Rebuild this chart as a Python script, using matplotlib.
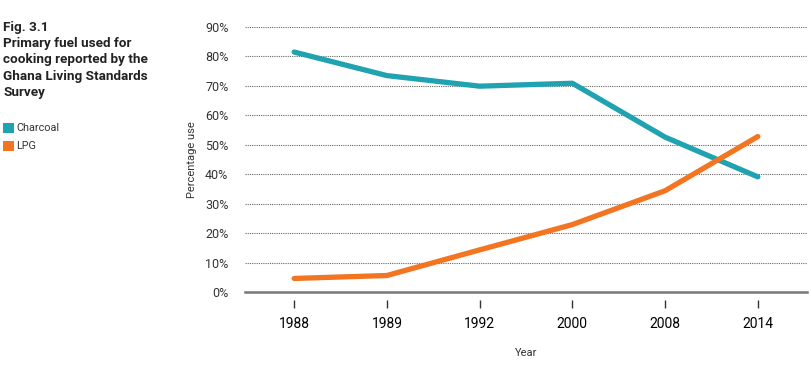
import matplotlib
matplotlib.use("Agg")
import matplotlib.pyplot as plt
from matplotlib.patches import Rectangle

# Data
years = ["1988", "1989", "1992", "2000", "2008", "2014"]
charcoal = [81.5, 73.5, 69.9, 70.9, 52.6, 39.1]
lpg = [4.6, 5.6, 14.3, 22.9, 34.4, 52.8]
y_ticks = [0, 10, 20, 30, 40, 50, 60, 70, 80, 90]

teal = "#20A3B1"
orange = "#F47521"
txt = "#333333"

plt.rcParams['font.family'] = ['Roboto', 'DejaVu Sans']

fig = plt.figure(figsize=(8.11, 3.72), dpi=100)
ax = fig.add_axes([245 / 811, 1 - 292 / 372, (807 - 245) / 811, (292 - 27) / 372])

x = list(range(len(years)))
ax.plot(x, charcoal, color=teal, lw=3.8, solid_capstyle="round", zorder=3)
ax.plot(x, lpg, color=orange, lw=3.8, solid_capstyle="round", zorder=3)

ax.set_xlim(-0.53, 5.53)
ax.set_ylim(0, 90)
ax.set_yticks(y_ticks)
ax.set_yticklabels([f"{v}%" for v in y_ticks], fontsize=9, color=txt)
ax.set_xticks(x)
ax.set_xticklabels(years, fontsize=8.5, color=txt)

# dotted gridlines
for v in y_ticks[1:]:
    ax.axhline(v, color="#666666", lw=0.8, ls=(0, (1, 1)), zorder=1)
# solid baseline
ax.axhline(0, color="#777777", lw=1.8, zorder=2, clip_on=False)

for s in ["top", "right", "left"]:
    ax.spines[s].set_visible(False)
ax.spines["bottom"].set_position(("outward", 6))
ax.spines["bottom"].set_visible(False)
ax.tick_params(axis="y", length=0, pad=12)
ax.tick_params(axis="x", direction="out", length=6, width=1, color="#333333", pad=6)

ax.set_ylabel("Percentage use", fontsize=8, color=txt, labelpad=6)
ax.set_xlabel("Year", fontsize=8, color=txt, labelpad=12)

# title block on the left
fig.text(3 / 811, 1 - 21 / 372,
         "Fig. 3.1\nPrimary fuel used for\ncooking reported by the\nGhana Living Standards\nSurvey",
         fontsize=9.7, fontweight="bold", color="#222222", va="top", ha="left",
         linespacing=1.32)

# legend squares
for i, (name, col) in enumerate([("Charcoal", teal), ("LPG", orange)]):
    yc = 128 + i * 18
    fig.patches.append(Rectangle((3 / 811, 1 - (yc + 5) / 372), 11 / 811, 10 / 372,
                                 transform=fig.transFigure, facecolor=col, edgecolor="none"))
    fig.text(16 / 811, 1 - yc / 372, name, fontsize=7.8, color=txt, va="center", ha="left")

fig.savefig("out.png", dpi=100)
